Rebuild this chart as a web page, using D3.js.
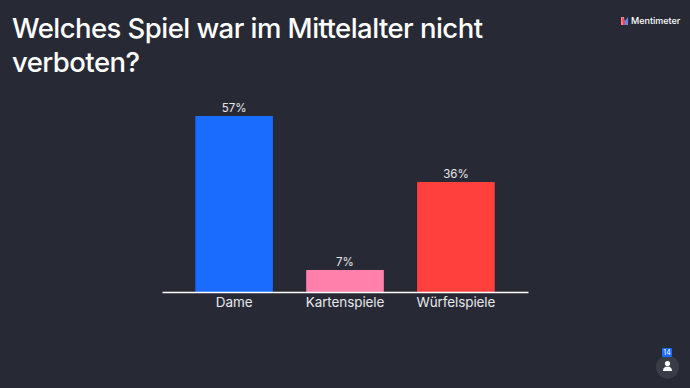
<!DOCTYPE html>
<html>
<head>
<meta charset="utf-8">
<script src="https://cdnjs.cloudflare.com/ajax/libs/d3/7.8.5/d3.min.js"></script>
<style>
  html, body { margin: 0; padding: 0; background: #272a35; }
  svg { display: block; font-family: Inter, sans-serif; }
  .title { fill: #fff; font-size: 27.5px; font-weight: 500; letter-spacing: -0.55px; }
  .value { fill: #e6e7ea; font-size: 11.5px; text-anchor: middle; }
  .cat text { fill: #e6e7ea; font-size: 13.5px; letter-spacing: -0.1px; font-family: Inter, sans-serif; }
</style>
</head>
<body>
<svg id="chart" width="690" height="388"></svg>
<script>
const categories = ["Dame", "Kartenspiele", "Würfelspiele"];
const votes = [8, 1, 5];
const respondents = 14;
const barColors = ["#196cff", "#ff80ab", "#ff403d"];
const titleLines = ["Welches Spiel war im Mittelalter nicht", "verboten?"];

const svg = d3.select("#chart");

svg.selectAll(".title")
  .data(titleLines)
  .enter()
  .append("text")
  .attr("class", "title")
  .attr("x", 12)
  .attr("y", (d, i) => 38 + i * 34)
  .text((d) => d);

// Chart area
const baseline = 292;
const xScale = d3.scaleBand()
  .domain(categories)
  .range([162, 528])
  .paddingInner(0.3)
  .paddingOuter(0.3);
const yScale = d3.scaleLinear()
  .domain([0, 8])
  .range([baseline, 116]);

svg.selectAll(".bar")
  .data(categories)
  .enter()
  .append("rect")
  .attr("class", "bar")
  .attr("x", (d) => xScale(d))
  .attr("y", (d, i) => yScale(votes[i]))
  .attr("width", xScale.bandwidth())
  .attr("height", (d, i) => baseline - yScale(votes[i]))
  .attr("fill", (d, i) => barColors[i]);

svg.selectAll(".value")
  .data(categories)
  .enter()
  .append("text")
  .attr("class", "value")
  .attr("x", (d) => xScale(d) + xScale.bandwidth() / 2)
  .attr("y", (d, i) => yScale(votes[i]) - 4)
  .text((d, i) => Math.round((votes[i] / respondents) * 100) + "%");

const xAxis = d3.axisBottom(xScale).tickSize(0).tickPadding(5);
const axisG = svg.append("g")
  .attr("class", "cat")
  .attr("transform", "translate(0," + baseline + ")")
  .call(xAxis);
axisG.select(".domain").attr("stroke", "#fff").attr("stroke-width", 1.5);

// Mentimeter logo
const logo = svg.append("g").attr("transform", "translate(621,17)");
logo.append("path").attr("d", "M0 0L3 0L4 8L0 8Z").attr("fill", "#ff80ab");
logo.append("path").attr("d", "M1 0L4 4L4 8L2 8Z").attr("fill", "#ff403d");
logo.append("path").attr("d", "M4 4L7 0L7 8L4 8Z").attr("fill", "#5a8cff");
svg.append("text")
  .attr("x", 631)
  .attr("y", 24)
  .attr("fill", "#fff")
  .attr("font-size", 9)
  .attr("font-weight", 500)
  .text("Mentimeter");

// Respondent badge
svg.append("circle").attr("cx", 667.5).attr("cy", 367).attr("r", 11.5).attr("fill", "#3a3d47");
svg.append("circle").attr("cx", 667.5).attr("cy", 363.5).attr("r", 2.6).attr("fill", "#fff");
svg.append("path").attr("d", "M663 371 Q663 366.5 667.5 366.5 Q672 366.5 672 371 Z").attr("fill", "#fff");
svg.append("rect").attr("x", 662).attr("y", 348).attr("width", 10).attr("height", 9).attr("rx", 1).attr("fill", "#196cff");
svg.append("text")
  .attr("x", 667)
  .attr("y", 355.2)
  .attr("text-anchor", "middle")
  .attr("fill", "#fff")
  .attr("font-size", 7)
  .text(respondents);
</script>
</body>
</html>
